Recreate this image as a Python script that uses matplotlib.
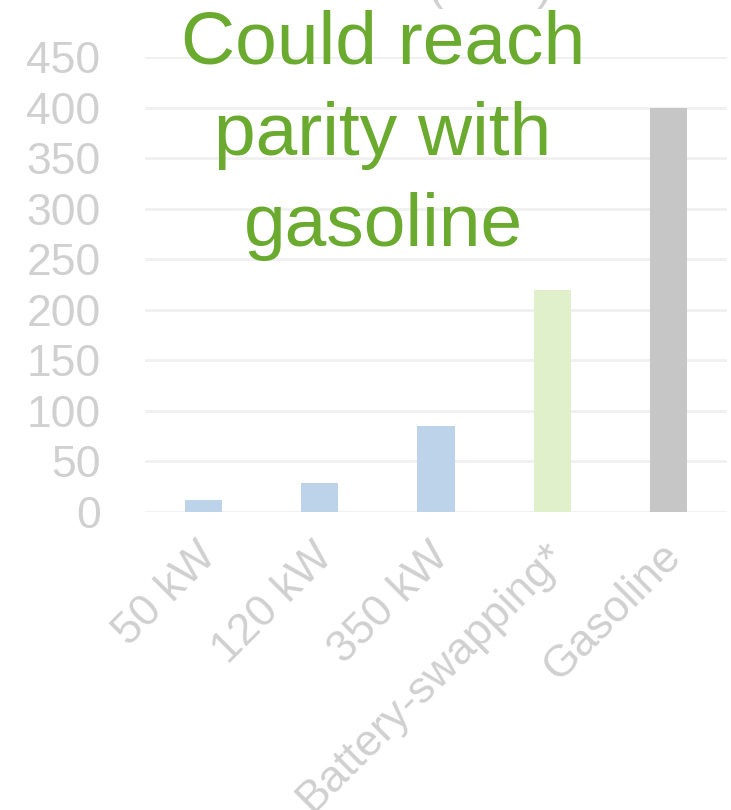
import matplotlib
matplotlib.use("Agg")
import matplotlib.pyplot as plt
import matplotlib.transforms as mtransforms

plt.rcParams['font.family'] = ['Liberation Sans', 'DejaVu Sans']

# range added per charging option
categories = ["50 kW", "120 kW", "350 kW", "Battery-swapping*", "Gasoline"]
values = [12, 29, 85, 220, 400]
bar_colors = ["#bdd3ea", "#bdd3ea", "#bdd3ea", "#e0f0cb", "#c6c6c6"]
yticks = [0, 50, 100, 150, 200, 250, 300, 350, 400, 450]

LABEL_GRAY = "#d0d0d0"
GRID_GRAY = "#f0f0f0"
GREEN = "#6aaa2f"

fig = plt.figure(figsize=(7.31, 8.10), dpi=100)
ax = fig.add_axes([0.1984, 0.368, 0.7961, 0.5616])

x = range(len(categories))
ax.bar(x, values, width=0.32, color=bar_colors, zorder=2)

ax.set_xlim(-0.5, len(categories) - 0.5)
ax.set_ylim(0, 450)
ax.set_yticks(yticks)
ax.set_yticklabels([str(t) for t in yticks], fontsize=32, color=LABEL_GRAY)
ax.tick_params(axis='y', length=0, pad=32)

ax.set_xticks(list(x))
ax.set_xticklabels(categories, fontsize=32, color=LABEL_GRAY,
                   rotation=45, ha='right', rotation_mode='anchor')
ax.tick_params(axis='x', length=0, pad=14)
shift = mtransforms.ScaledTranslation(-8 / 100, -4 / 100, fig.dpi_scale_trans)
for lbl in ax.get_xticklabels():
    lbl.set_transform(lbl.get_transform() + shift)

ax.yaxis.grid(True, color=GRID_GRAY, linewidth=2, zorder=0)
ax.set_axisbelow(True)
for s in ax.spines.values():
    s.set_visible(False)

# chart title sits above the canvas, only the brackets hang into view
fig.text(0.670, 1 + 1 / 810, "(kWh)", fontsize=34, color=LABEL_GRAY,
         ha='center', va='baseline')

fig.text(0.524, 1 - 9 / 810, "Could reach\nparity with\ngasoline",
         fontsize=54, color=GREEN, ha='center', va='top',
         linespacing=1.42, zorder=5)

fig.savefig("out.png", dpi=100)
